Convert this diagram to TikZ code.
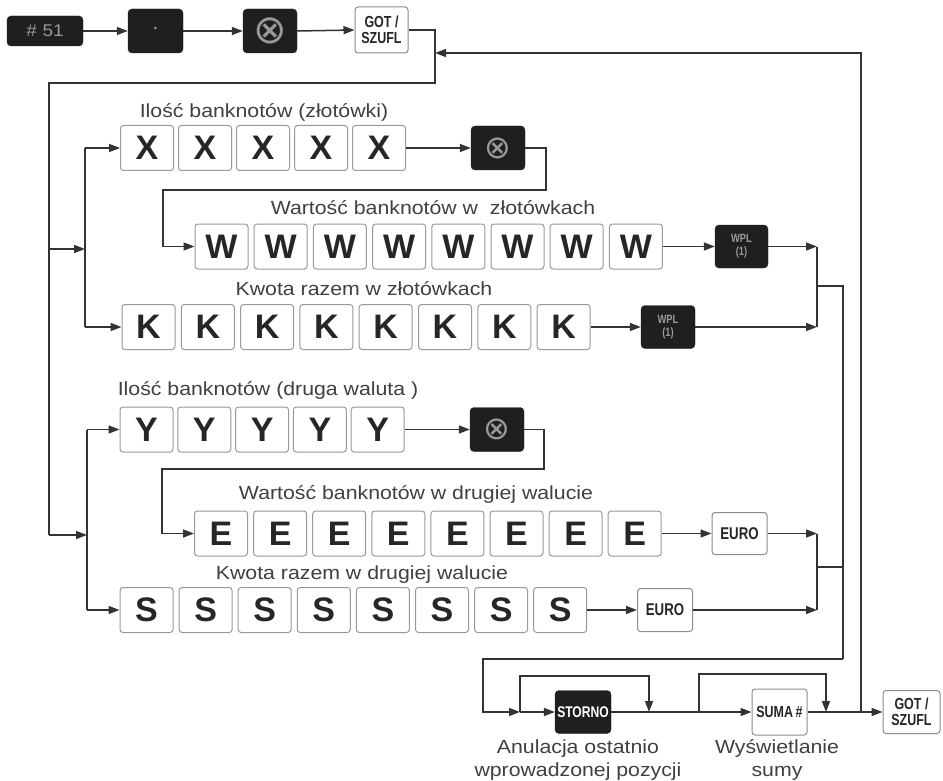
\documentclass[tikz,border=0pt]{standalone}
\usepackage{fontspec}
\setmainfont{Liberation Sans}
\newfontfamily\keyfont[FakeStretch=0.78]{Liberation Sans}
\newfontfamily\lblfont[FakeStretch=1.12]{Liberation Sans}
\newfontfamily\symfont{DejaVu Sans}
\usetikzlibrary{arrows.meta}
\begin{document}
\begin{tikzpicture}[x=1pt,y=-1pt,
  wire/.style={draw=black!80,line width=1.5pt},
  wirearr/.style={wire,-{Triangle[length=11pt,width=8pt]}},
  key/.style={draw=black!40,fill=white,rounded corners=3pt,line width=1pt,
    minimum width=53pt,minimum height=45pt,inner sep=0pt,
    font=\bfseries\fontsize{34}{34}\selectfont,text=black!85},
  dkey/.style={draw=black!85,fill=black!88,rounded corners=4pt,
    minimum width=54pt,minimum height=44pt,inner sep=0pt,text=black!40,align=center},
  skey/.style={draw=black!45,fill=white,rounded corners=3pt,line width=1pt,
    minimum width=55pt,minimum height=44pt,inner sep=0pt,
    font=\keyfont\bfseries\fontsize{16}{16}\selectfont,text=black!85,align=center},
  lbl/.style={font=\lblfont\fontsize{19}{22}\selectfont,text=black!75},
  capt/.style={font=\lblfont\fontsize{19}{23}\selectfont,text=black!75,align=center},
  wpl/.style={dkey,font=\keyfont\bfseries\fontsize{12}{13}\selectfont},
  mul/.style={dkey,font=\symfont\fontsize{32}{32}\selectfont}
]
\fill[white] (0,0) rectangle (943,781);
\useasboundingbox (0,0) rectangle (943,781);

% ---- top row ----
\node[dkey,minimum width=76pt,minimum height=30pt,font=\lblfont\fontsize{17}{17}\selectfont] (n51) at (45,31) {\#\,\,51};
\node[dkey,minimum width=55pt,font=\fontsize{22}{22}\selectfont] (ndot) at (155.5,31) {·};
\node[mul,font=\symfont\fontsize{40}{40}\selectfont] (nmul) at (270,31) {⊗};
\node[skey,minimum width=53pt,minimum height=46pt] (got1) at (381.5,30) {GOT /\\SZUFL};

\draw[wirearr] (n51.east) -- (ndot.west);
\draw[wirearr] (ndot.east) -- (nmul.west);
\draw[wirearr] (nmul.east) -- (got1.west);

\coordinate (a1) at (435,30);
\coordinate (a2) at (435,83);
\coordinate (a3) at (49,83);
\coordinate (a4) at (49,535);
\coordinate (a5) at (49,249);
\coordinate (b1) at (85,249);
\coordinate (b2) at (87,535);

% ---- labels ----
\node[lbl] (t1) at (264,112) {Ilość banknotów (złotówki)};
\node[lbl] (t2) at (433,208) {Wartość banknotów w \ złotówkach};
\node[lbl] (t3) at (364,289) {Kwota razem w złotówkach};
\node[lbl] (t4) at (268,390) {Ilość banknotów (druga waluta )};
\node[lbl] (t5) at (416,494) {Wartość banknotów w drugiej walucie};
\node[lbl] (t6) at (362,575) {Kwota razem w drugiej walucie};

% ---- key rows ----
\foreach \i in {1,...,5} \node[key] (X\i) at ({147+(\i-1)*58},148) {X};
\foreach \i in {1,...,8} \node[key] (W\i) at ({221.5+(\i-1)*59.2},246.5) {W};
\foreach \i in {1,...,8} \node[key] (K\i) at ({148.5+(\i-1)*59.3},327) {K};
\foreach \i in {1,...,5} \node[key] (Y\i) at ({146.5+(\i-1)*57.8},429.5) {Y};
\foreach \i in {1,...,8} \node[key] (E\i) at ({221+(\i-1)*59.1},533.5) {E};
\foreach \i in {1,...,8} \node[key] (S\i) at ({146.5+(\i-1)*59.1},610) {S};

\node[mul] (mulA) at (498,148) {⊗};
\node[mul] (mulB) at (497,429.5) {⊗};
\node[wpl,minimum width=53pt,minimum height=43pt] (wplA) at (741.5,246.5) {WPL\\(1)};
\node[wpl,minimum width=54pt,minimum height=43pt] (wplB) at (668,327) {WPL\\(1)};
\node[skey,minimum height=42pt,font=\keyfont\bfseries\fontsize{17}{17}\selectfont] (euroA) at (739.5,533.5) {EURO};
\node[skey,minimum height=43pt,font=\keyfont\bfseries\fontsize{17}{17}\selectfont] (euroB) at (665,610) {EURO};

% ---- left distribution ----
\draw[wire] (got1.east) -- (a1) -- (a2) -- (a3) -- (a4);
\draw[wirearr] (a5) -- (b1);
\draw[wirearr] (a4) -- (b2);
\draw[wire] (X1.west -| b1) -- (K1.west -| b1);
\draw[wirearr] (X1.west -| b1) -- (X1.west);
\draw[wirearr] (K1.west -| b1) -- (K1.west);
\draw[wire] (Y1.west -| b2) -- (S1.west -| b2);
\draw[wirearr] (Y1.west -| b2) -- (Y1.west);
\draw[wirearr] (S1.west -| b2) -- (S1.west);

% ---- zloty section ----
\coordinate (r1) at (546,190);
\coordinate (l1) at (163,190);
\draw[wirearr] (X5.east) -- (mulA.west);
\draw[wirearr] (mulA.east) -| (r1) -- (l1) |- (W1.west);
\draw[wirearr] (W8.east) -- (wplA.west);
\draw[wirearr] (K8.east) -- (wplB.west);
\coordinate (m1) at (817,286);
\coordinate (v1) at (843,286);
\draw[wirearr] (wplA.east) -- (wplA.east -| m1);
\draw[wirearr] (wplB.east) -- (wplB.east -| m1);
\draw[wire] (wplA.east -| m1) -- (wplB.east -| m1);

% ---- second currency ----
\coordinate (r2) at (544,469);
\coordinate (l2) at (162,469);
\draw[wirearr] (Y5.east) -- (mulB.west);
\draw[wirearr] (mulB.east) -| (r2) -- (l2) |- (E1.west);
\draw[wirearr] (E8.east) -- (euroA.west);
\draw[wirearr] (S8.east) -- (euroB.west);
\coordinate (m2) at (817,567);
\draw[wirearr] (euroA.east) -- (euroA.east -| m2);
\draw[wirearr] (euroB.east) -- (euroB.east -| m2);
\draw[wire] (euroA.east -| m2) -- (euroB.east -| m2);
\draw[wire] (m2) -- (m2 -| v1);

% ---- bottom row ----
\node[dkey,minimum width=56pt,minimum height=43pt,text=white,font=\keyfont\bfseries\fontsize{15.5}{15.5}\selectfont] (storno) at (583,712) {STORNO};
\node[skey,minimum height=46pt] (suma) at (779.5,712) {SUMA\,\#};
\node[skey,minimum width=57pt,minimum height=43pt] (got2) at (911.5,712) {GOT /\\SZUFL};
\node[capt] (c1) at (578,760) {Anulacja ostatnio\\wprowadzonej pozycji};
\node[capt] (c2) at (777,760) {Wyświetlanie\\sumy};

\coordinate (v2) at (843,659);
\coordinate (v3) at (483,659);
\coordinate (j1) at (520,712);
\coordinate (lp1) at (649,676);
\coordinate (j2) at (649,712);
\coordinate (j3) at (699,712);
\coordinate (lp2) at (826,674);
\coordinate (j4) at (826,712);
\coordinate (j5) at (861,712);
\coordinate (tp1) at (861,53);
\coordinate (tp2) at (435,53);

\draw[wire] (m1) -- (v1) -- (v2);
\draw[wirearr] (v2) -- (v3) |- (j1);
\draw[wirearr] (j1) -- (storno.west);
\draw[wirearr] (j1) -- (j1 |- lp1) -- (lp1) -- (j2);
\draw[wirearr] (storno.east) -- (suma.west);
\draw[wirearr] (j3) -- (j3 |- lp2) -- (lp2) -- (j4);
\draw[wirearr] (suma.east) -- (got2.west);
\draw[wirearr] (j5) -- (tp1) -- (tp2);
\end{tikzpicture}
\end{document}
